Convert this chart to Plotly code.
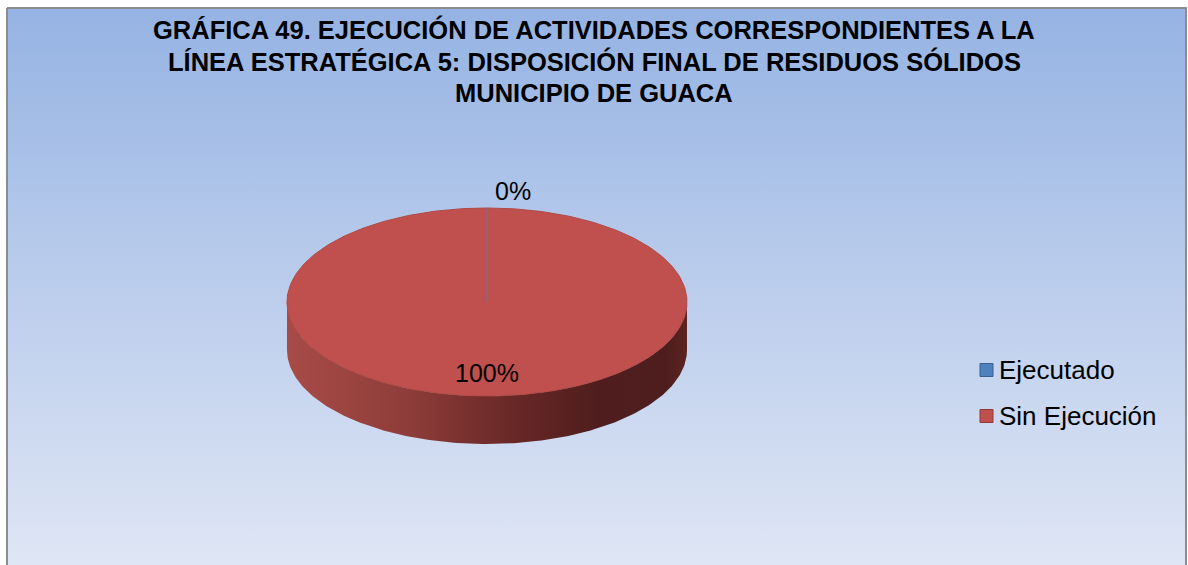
import numpy as np
import plotly.graph_objects as go

# Data
categories = ["Ejecutado", "Sin Ejecución"]
values = [0, 100]
label_texts = ["0%", "100%"]
slice_colors = ["#4F81BD", "#C0504D"]
title_lines = [
    "GRÁFICA 49. EJECUCIÓN DE ACTIVIDADES CORRESPONDIENTES A LA",
    "LÍNEA ESTRATÉGICA 5: DISPOSICIÓN FINAL DE RESIDUOS SÓLIDOS",
    "MUNICIPIO DE GUACA",
]

W, H = 1188, 565
FONT = "Liberation Sans, Arial, sans-serif"

# Pie geometry (pixel space)
cx, cy = 487, 302
rx, ry = 200, 94
depth = 48

fig = go.Figure()

# Chart area background with vertical gradient (light at bottom, blue at top)
fig.add_trace(go.Scatter(
    x=[7, 1186, 1186, 7, 7], y=[8, 8, 566, 566, 8],
    mode="lines", fill="toself",
    line=dict(color="#8C8C8C", width=2),
    fillgradient=dict(type="vertical",
                      colorscale=[[0, "#DFE6F5"], [0.5, "#BBCDEC"], [1, "#95B3E3"]]),
    hoverinfo="skip", showlegend=False))


def ell(theta_deg, k=1.0, dy=0.0):
    t = np.radians(theta_deg)
    return cx + k * rx * np.sin(t), cy - k * ry * np.cos(t) + dy


total = float(sum(values))
bounds = np.concatenate([[0], np.cumsum(values)]) / total * 360.0

side_scale = [[0, "#A84B47"], [0.3, "#8E3D3A"], [0.55, "#6A2927"],
              [0.78, "#4F1D1D"], [0.95, "#4E1E1E"], [1, "#5C2321"]]

# Front side walls of each slice (visible between 90 and 270 degrees)
for i, (a, b) in enumerate(zip(bounds[:-1], bounds[1:])):
    lo, hi = max(a, 90.0), min(b, 270.0)
    if hi <= lo:
        continue
    th = np.linspace(lo, hi, 200)
    xt, yt = ell(th)
    xb, yb = ell(th[::-1], dy=depth)
    fig.add_trace(go.Scatter(
        x=np.concatenate([xt, xb, xt[:1]]), y=np.concatenate([yt, yb, yt[:1]]),
        mode="lines", fill="toself", line=dict(width=0),
        fillgradient=dict(type="horizontal", colorscale=side_scale),
        hoverinfo="skip", showlegend=False))

# Top faces
for i, (a, b) in enumerate(zip(bounds[:-1], bounds[1:])):
    if b - a <= 0:
        continue
    th = np.linspace(a, b, 400)
    xt, yt = ell(th)
    if b - a < 360:
        xt = np.concatenate([[cx], xt, [cx]])
        yt = np.concatenate([[cy], yt, [cy]])
    fig.add_trace(go.Scatter(
        x=xt, y=yt, mode="lines", fill="toself",
        fillcolor=slice_colors[i], line=dict(color="#B04A46", width=1),
        hoverinfo="skip", showlegend=False))

# Slice boundaries (a zero-size slice shows as a radial line)
for i, (a, b) in enumerate(zip(bounds[:-1], bounds[1:])):
    if b - a == 0:
        ex, ey = ell(a)
        fig.add_trace(go.Scatter(
            x=[cx, ex], y=[cy, ey], mode="lines",
            line=dict(color="#77708A", width=1.2),
            hoverinfo="skip", showlegend=False))

# Data labels
for i, (a, b) in enumerate(zip(bounds[:-1], bounds[1:])):
    mid = (a + b) / 2
    if b - a == 0:
        lx, ly = ell(mid, k=1.0)
        fig.add_annotation(x=lx + 6, y=ly - 1, text=label_texts[i], showarrow=False,
                           xanchor="left", yanchor="bottom",
                           font=dict(family=FONT, size=25, color="black"))
    else:
        lx, ly = ell(mid, k=0.75)
        fig.add_annotation(x=lx, y=ly, text=label_texts[i], showarrow=False,
                           xanchor="center", yanchor="middle",
                           font=dict(family=FONT, size=25, color="black"))

# Legend
leg_y = [370, 416]
fig.add_trace(go.Scatter(
    x=[986.5, 986.5], y=leg_y, mode="markers",
    marker=dict(symbol="square", size=13, color=slice_colors,
                line=dict(color=["#3A5F8C", "#8E3A37"], width=1)),
    hoverinfo="skip", showlegend=False))
for name, yy in zip(categories, leg_y):
    fig.add_annotation(x=997, y=yy, text=name, showarrow=False,
                       xanchor="left", yanchor="middle",
                       font=dict(family=FONT, size=26, color="black"))

# Title
for line, yy in zip(title_lines, [29, 61, 93]):
    fig.add_annotation(x=594, y=yy, text="<b>" + line + "</b>", showarrow=False,
                       xanchor="center", yanchor="middle",
                       font=dict(family=FONT, size=25.5, color="black"))

fig.update_layout(
    width=W, height=H, margin=dict(l=0, r=0, t=0, b=0),
    paper_bgcolor="white", plot_bgcolor="white",
    xaxis=dict(range=[0, W], visible=False, fixedrange=True),
    yaxis=dict(range=[H, 0], visible=False, fixedrange=True),
    showlegend=False,
)

fig.write_html("out.html")
